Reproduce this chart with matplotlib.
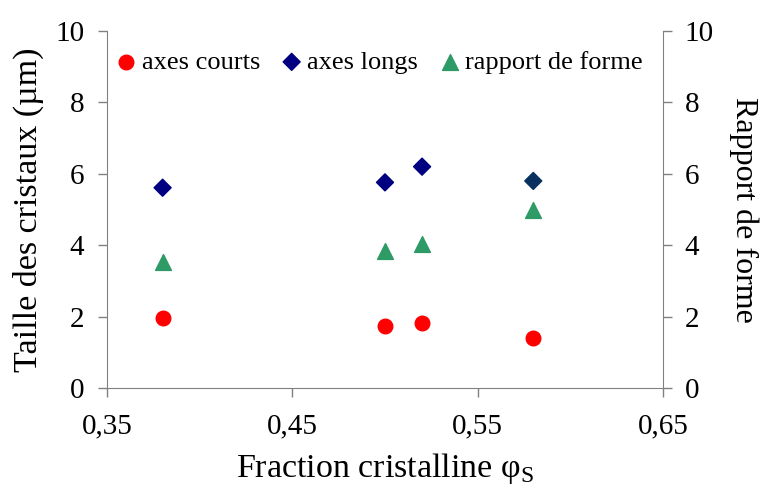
import matplotlib
matplotlib.use("Agg")
import matplotlib.pyplot as plt
from matplotlib.ticker import FuncFormatter

plt.rcParams['font.family'] = ['Liberation Serif', 'DejaVu Serif']
plt.rcParams['mathtext.fontset'] = 'custom'
plt.rcParams['mathtext.rm'] = 'Liberation Serif'

fraction = [0.38, 0.50, 0.52, 0.58]
axes_courts = [1.97, 1.74, 1.83, 1.39]
axes_longs = [5.61, 5.76, 6.20, 5.80]
rapport_forme = [3.54, 3.83, 4.03, 4.99]

fig = plt.figure(figsize=(7.63, 4.86), dpi=100)
ax = fig.add_axes([107/763, 1-388/486, (663-107)/763, (388-31)/486])
ax2 = ax.twinx()

gray = '#808080'
ax.scatter(fraction, axes_courts, marker='o', s=110, color='#ff0000', label='axes courts', zorder=3)
ax.scatter(fraction, axes_longs, marker='D', s=75, color=['#000080', '#000080', '#000080', '#0a3060'], label='axes longs', zorder=3)
ax2.scatter(fraction, rapport_forme, marker='^', s=130, color='#2e9a66', label='rapport de forme', zorder=3)

ax.set_xlim(0.35, 0.65)
ax.set_ylim(0, 10)
ax2.set_ylim(0, 10)
ax.set_xticks([0.35, 0.45, 0.55, 0.65])
ax.xaxis.set_major_formatter(FuncFormatter(lambda v, p: f"{v:.2f}".replace('.', ',')))
ax.set_yticks([0, 2, 4, 6, 8, 10])
ax2.set_yticks([0, 2, 4, 6, 8, 10])

for a in (ax, ax2):
    a.spines['top'].set_visible(False)
    for s in a.spines.values():
        s.set_color(gray)
    a.tick_params(colors=gray, labelcolor='black', labelsize=21, length=6.5, width=1)
ax.spines['right'].set_visible(False)
ax2.spines['left'].set_visible(False)
ax2.spines['bottom'].set_visible(False)
ax.tick_params(axis='x', pad=12)
ax.tick_params(axis='y', pad=10)
ax2.tick_params(axis='y', pad=9)

ax.set_xlabel('Fraction cristalline φ$_{\\mathrm{S}}$', fontsize=24.5, labelpad=8)
ax.set_ylabel('Taille des cristaux (µm)', fontsize=24.5, labelpad=8)
ax2.set_ylabel('Rapport de forme', fontsize=23, rotation=-90, labelpad=32)

h1, l1 = ax.get_legend_handles_labels()
h2, l2 = ax2.get_legend_handles_labels()
ax2.legend(h1 + h2, l1 + l2, loc='center left', bbox_to_anchor=(0.011, 0.913), ncol=3,
           frameon=False, fontsize=19, handletextpad=0.1, columnspacing=0.68,
           handlelength=1.0, borderaxespad=0, borderpad=0)

fig.savefig('out.png', dpi=100)
